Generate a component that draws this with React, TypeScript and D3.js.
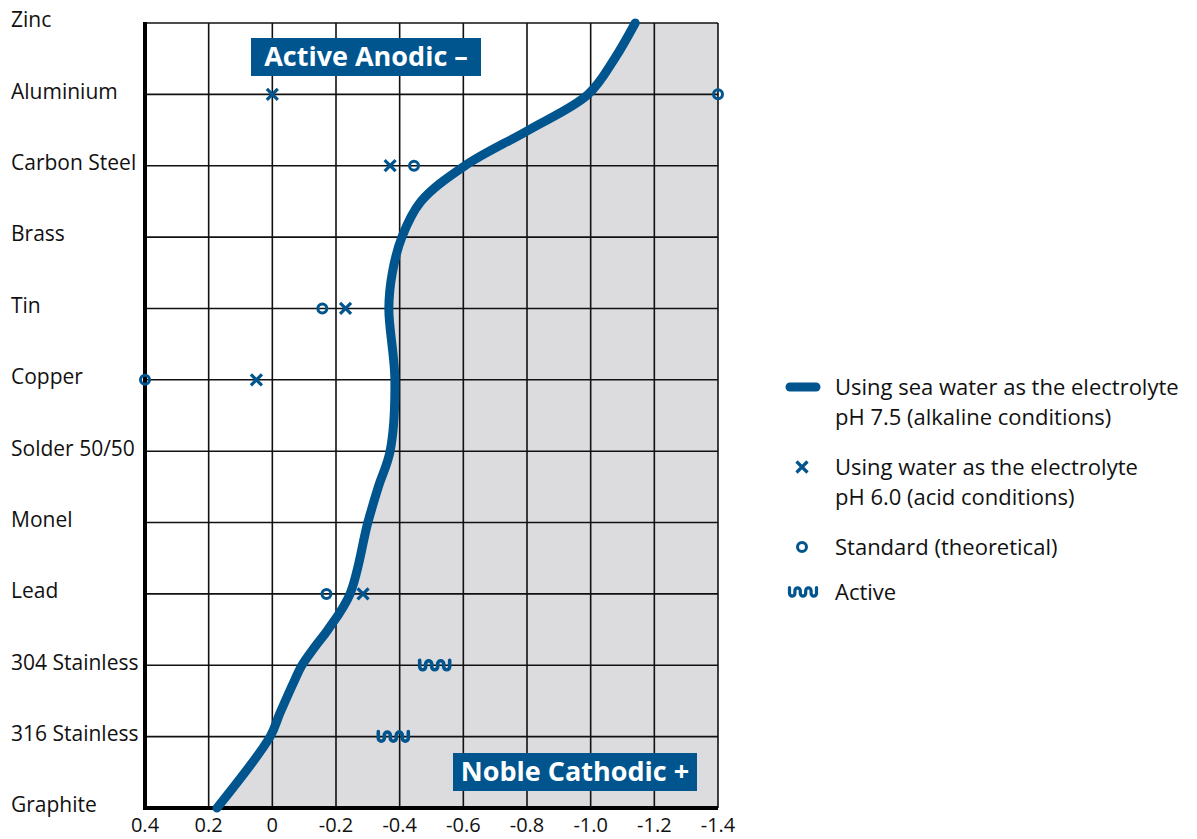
import * as d3 from 'd3';

// rows from top (most anodic) to bottom (most noble)
const metals = ['Zinc', 'Aluminium', 'Carbon Steel', 'Brass', 'Tin', 'Copper', 'Solder 50/50',
    'Monel', 'Lead', '304 Stainless', '316 Stainless', 'Graphite'];

const xTicks = [0.4, 0.2, 0, -0.2, -0.4, -0.6, -0.8, -1.0, -1.2, -1.4];
const xTickLabels = ['0.4', '0.2', '0', '-0.2', '-0.4', '-0.6', '-0.8', '-1.0', '-1.2', '-1.4'];

// sea water curve (row position, potential in volts)
const seaRows = [0, 0.5, 1, 1.5, 2, 2.5, 3, 3.5, 4, 5, 6, 6.5, 7, 8, 8.5, 8.74,
    9, 9.2, 9.67, 10, 11];
const seaValues = [-1.14, -1.075, -0.992, -0.805, -0.605, -0.467, -0.407,
    -0.377, -0.366, -0.385, -0.37, -0.333, -0.3, -0.244, -0.175, -0.134, -0.093, -0.071, -0.024, 0.007,
    0.174];

// water pH 6.0 (x markers)
const acidRows = [1, 2, 4, 5, 8];
const acidValues = [0.0, -0.37, -0.23, 0.05, -0.285];

// standard theoretical (o markers)
const stdRows = [1, 2, 4, 5, 8];
const stdValues = [-1.4, -0.445, -0.157, 0.4, -0.17];

// active (squiggle markers)
const activeRows = [9, 10];
const activeValues = [-0.51, -0.38];

const BLUE = '#00558f';
const GREY = '#dcdcdf';
const FONT = '"Open Sans", "Noto Sans", sans-serif';

const squiggle = 'M-14,-5 L-14,1.5 A3,3 0 0 0 -8,1.5 L-8,-1.5 A3,3 0 0 1 -2,-1.5 L-2,1.5 '
    + 'A3,3 0 0 0 4,1.5 L4,-1.5 A3,3 0 0 1 10,-1.5 L10,1.5 A3,3 0 0 0 16,1.5 L16,-5';

function Cross({ x, y }: { x: number, y: number }) {
    return (
        <g transform={`translate(${x},${y})`} stroke={BLUE} strokeWidth={3.2}>
            <line x1={-5.5} y1={-5.5} x2={5.5} y2={5.5} />
            <line x1={-5.5} y1={5.5} x2={5.5} y2={-5.5} />
        </g>
    );
}

function Ring({ x, y }: { x: number, y: number }) {
    return <circle cx={x} cy={y} r={4.5} fill="none" stroke={BLUE} strokeWidth={3} />;
}

function Squiggle({ x, y, scale = 1 }: { x: number, y: number, scale?: number }) {
    return <path transform={`translate(${x - scale},${y}) scale(${scale})`} d={squiggle} fill="none"
        stroke={BLUE} strokeWidth={3.6} strokeLinecap="round" />;
}

export default function App() {
    const width = 1197, height = 839;
    const left = 145, right = 718, top = 23, bottom = 808;

    const x = d3.scaleLinear().domain([0.4, -1.4]).range([left, right]);
    const y = d3.scaleLinear().domain([0, metals.length - 1]).range([top, bottom]);

    const seaData = seaRows.map((r, i) => [r, seaValues[i]]);

    const line = d3.line<number[]>()
        .curve(d3.curveCatmullRom.alpha(0.5))
        .x(d => x(d[1]))
        .y(d => y(d[0]));

    const area = d3.area<number[]>()
        .curve(d3.curveCatmullRom.alpha(0.5))
        .y(d => y(d[0]))
        .x0(d => x(d[1]))
        .x1(right);

    const legendX = 835;
    const legendItems = [
        { y: 387, lines: ['Using sea water as the electrolyte', 'pH 7.5 (alkaline conditions)'], kind: 'line' },
        { y: 467, lines: ['Using water as the electrolyte', 'pH 6.0 (acid conditions)'], kind: 'cross' },
        { y: 547, lines: ['Standard (theoretical)'], kind: 'ring' },
        { y: 592, lines: ['Active'], kind: 'active' },
    ];

    return (
        <div style={{ position: 'absolute', left: 0, top: 0 }}>
            <svg width={width} height={height} style={{ display: 'block', background: '#fff' }}
                fontFamily={FONT}>
                <defs>
                    <clipPath id="plot">
                        <rect x={left} y={top} width={right - left} height={bottom - top} />
                    </clipPath>
                </defs>

                {/* grey noble region */}
                <path d={area(seaData) || ''} fill={GREY} clipPath="url(#plot)" />

                {/* grid */}
                <g stroke="#111" strokeWidth={1.6}>
                    {xTicks.slice(1).map(t => (
                        <line key={t} x1={x(t)} x2={x(t)} y1={top} y2={bottom} />
                    ))}
                    {metals.slice(0, -1).map((m, i) => (
                        <line key={m} x1={left} x2={right} y1={y(i)} y2={y(i)} />
                    ))}
                </g>
                <line x1={left} x2={left} y1={top - 1} y2={bottom + 2} stroke="#000" strokeWidth={4} />
                <line x1={left - 2} x2={right} y1={bottom} y2={bottom} stroke="#000" strokeWidth={4} />

                {/* row labels */}
                {metals.map((m, i) => (
                    <text key={m} x={11} y={y(i) - 3} dy="0.35em" fontSize={21} fill="#111">{m}</text>
                ))}

                {/* x tick labels */}
                {xTicks.map((t, i) => (
                    <text key={t} x={x(t)} y={825} dy="0.35em" textAnchor="middle" fontSize={20}
                        fill="#111">{xTickLabels[i]}</text>
                ))}

                {/* sea water curve */}
                <path d={line(seaData) || ''} fill="none" stroke={BLUE} strokeWidth={9}
                    strokeLinecap="round" />

                {acidRows.map((r, i) => <Cross key={'a' + i} x={x(acidValues[i])} y={y(r)} />)}
                {stdRows.map((r, i) => <Ring key={'s' + i} x={x(stdValues[i])} y={y(r)} />)}
                {activeRows.map((r, i) => <Squiggle key={'v' + i} x={x(activeValues[i])} y={y(r)} />)}

                {/* region labels */}
                <rect x={251} y={38} width={230} height={38} fill={BLUE} />
                <text x={366} y={57} dy="0.35em" textAnchor="middle" fill="#fff" fontSize={27}
                    fontWeight="bold">Active Anodic –</text>
                <rect x={453} y={753} width={244} height={38} fill={BLUE} />
                <text x={575} y={772} dy="0.35em" textAnchor="middle" fill="#fff" fontSize={27}
                    fontWeight="bold">Noble Cathodic +</text>

                {/* legend */}
                {legendItems.map(item => (
                    <g key={item.kind}>
                        {item.kind === 'line' &&
                            <line x1={790} x2={816} y1={item.y} y2={item.y} stroke={BLUE} strokeWidth={9}
                                strokeLinecap="round" />}
                        {item.kind === 'cross' && <Cross x={802} y={item.y} />}
                        {item.kind === 'ring' && <Ring x={802} y={item.y} />}
                        {item.kind === 'active' && <Squiggle x={803} y={item.y} scale={0.9} />}
                        {item.lines.map((t, j) => (
                            <text key={t} x={legendX} y={item.y + j * 30} dy="0.35em" fontSize={22}
                                fill="#111">{t}</text>
                        ))}
                    </g>
                ))}
            </svg>
        </div>
    );
}
